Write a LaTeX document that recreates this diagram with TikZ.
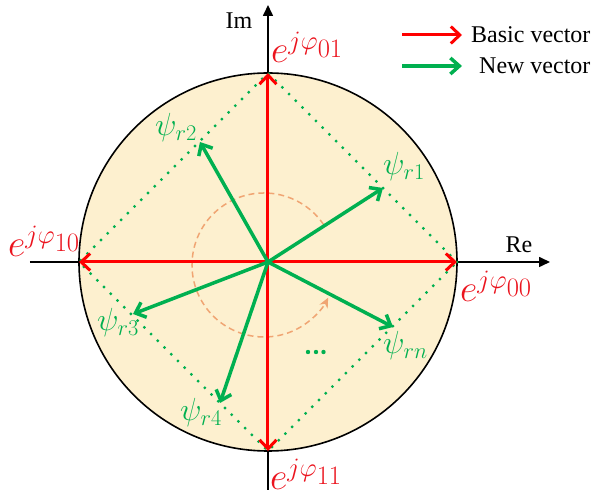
\RequirePackage{fix-cm}
\documentclass[tikz,border=0pt]{standalone}
\usepackage[no-math]{fontspec}
\setmainfont{Liberation Serif}
\usetikzlibrary{arrows.meta}
\definecolor{vred}{RGB}{255,0,0}
\definecolor{lred}{RGB}{235,20,30}
\definecolor{vgreen}{RGB}{0,176,80}
\definecolor{disk}{RGB}{253,240,207}
\definecolor{arcor}{RGB}{240,165,115}
\begin{document}
\begin{tikzpicture}[x=1pt,y=1pt,
  basic/.style={draw=vred,line width=3pt,-{Straight Barb[length=9pt,width=17pt]}},
  newvec/.style={draw=vgreen,line width=3.5pt,-{Straight Barb[length=9pt,width=16pt]}},
  axis/.style={draw=black,line width=1.6pt,-{Triangle[length=11pt,width=10pt]}},
  elabel/.style={text=lred,font=\fontsize{38}{44}\selectfont,anchor=base west,inner sep=0pt},
  plabel/.style={text=vgreen,font=\fontsize{32}{36}\selectfont,anchor=west,inner sep=0pt},
  txt/.style={font=\fontsize{24}{28}\selectfont,inner sep=0pt},
  diam/.style={draw=vgreen,line width=3.2pt,line cap=round,dash pattern=on 0pt off 9.5pt},
  rot/.style={draw=arcor,line width=1.5pt,dash pattern=on 6pt off 4pt,-{Stealth[length=10pt,width=9pt]}},
]
\useasboundingbox (-268,-235) rectangle (324,262);
\coordinate (O) at (0,0);
% axes
\coordinate (xL) at (-238,0);
\coordinate (xR) at (282,0);
\coordinate (yB) at (0,-228);
\coordinate (yT) at (0,257);
\draw[axis] (xL) -- (xR);
\draw[axis] (yB) -- (yT);
\node[txt,anchor=center] (re) at (251,17) {Re};
\node[txt,anchor=center] (im) at (-29,241) {Im};
% disk
\node[circle,draw=black,fill=disk,line width=1.6pt,minimum size=378pt,inner sep=0pt] (C) at (O) {};
% diamond
\coordinate (E) at (189,0);
\coordinate (N) at (0,189);
\coordinate (W) at (-189,0);
\coordinate (S) at (0,-189);
\draw[diam] (E) -- (N) -- (W) -- (S) -- cycle;
% rotation arc
\coordinate (ac) at (-4,-3);
\draw[rot] ([shift={(34:72)}]ac) arc[start angle=34,end angle=333,radius=72];
% basic vectors
\draw[basic] (O) -- (E);
\draw[basic] (O) -- (N);
\draw[basic] (O) -- (W);
\draw[basic] (O) -- (S);
% new vectors
\coordinate (r1) at (115,74);
\coordinate (r2) at (-68,120);
\coordinate (r3) at (-135,-52);
\coordinate (r4) at (-48,-141);
\coordinate (rn) at (125,-65);
\draw[newvec] (O) -- (r1);
\draw[newvec] (O) -- (r2);
\draw[newvec] (O) -- (r3);
\draw[newvec] (O) -- (r4);
\draw[newvec] (O) -- (rn);
% dots
\fill[vgreen] (40,-90) circle[radius=2.2] (48,-90) circle[radius=2.2] (55.5,-90) circle[radius=2.2];
% labels
\node[elabel] (e01) at (3,199) {$e^{j\varphi_{\scriptstyle 01}}$};
\node[elabel] (e10) at (-260,5) {$e^{j\varphi_{\scriptstyle 10}}$};
\node[elabel] (e00) at (192,-40) {$e^{j\varphi_{\scriptstyle 00}}$};
\node[elabel] (e11) at (2,-228) {$e^{j\varphi_{\scriptstyle 11}}$};
\node[plabel] (p1) at (115,95) {$\psi_{r1}$};
\node[plabel] (p2) at (-113,134) {$\psi_{r2}$};
\node[plabel] (p3) at (-171,-61) {$\psi_{r3}$};
\node[plabel] (p4) at (-88,-151) {$\psi_{r4}$};
\node[plabel] (pn) at (115,-84) {$\psi_{rn}$};
% legend
\coordinate (la) at (134,227);
\coordinate (lb) at (194,227);
\coordinate (lc) at (134,196);
\coordinate (ld) at (194,196);
\draw[basic] (la) -- (lb);
\draw[newvec] (lc) -- (ld);
\node[txt,anchor=west] (t1) at (203,227) {Basic vector};
\node[txt,anchor=west] (t2) at (211,196) {New vector};
\end{tikzpicture}
\end{document}
